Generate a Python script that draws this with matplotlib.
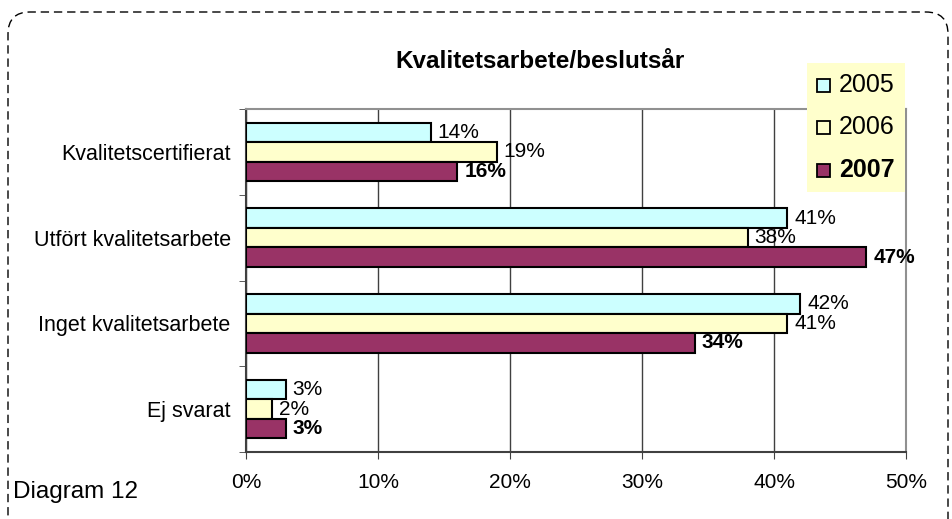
import numpy as np
import matplotlib.pyplot as plt
from matplotlib.patches import FancyBboxPatch, Rectangle
from matplotlib.transforms import IdentityTransform

plt.rcParams['font.family'] = ['Liberation Sans', 'DejaVu Sans']

kategorier = ['Kvalitetscertifierat', 'Utfört kvalitetsarbete', 'Inget kvalitetsarbete', 'Ej svarat']
ar = ['2005', '2006', '2007']
v2005 = [14, 41, 42, 3]
v2006 = [19, 38, 41, 2]
v2007 = [16, 47, 34, 3]
xticks = [0, 10, 20, 30, 40, 50]

farger = ['#CCFFFF', '#FFFFCC', '#993366']

W, H = 952, 519
fig = plt.figure(figsize=(W/100, H/100), dpi=100)
ax = fig.add_axes([246/W, 1-452/H, 660/W, 343/H])

y = np.arange(len(kategorier))
h = 0.227
serier = [v2005, v2006, v2007]
for i, vals in enumerate(serier):
    pos = y + (i-1)*h
    ax.barh(pos, vals, height=h, color=farger[i], edgecolor='black', linewidth=1.5, zorder=3)
    for p, v in zip(pos, vals):
        ax.annotate('%d%%' % v, (v, p), xytext=(5, 0), textcoords='offset points',
                    va='center', ha='left', fontsize=15,
                    fontweight='bold' if i == 2 else 'normal', zorder=4)

ax.set_xlim(0, 50)
ax.set_ylim(len(kategorier)-0.5, -0.5)
ax.set_xticks(xticks)
ax.set_xticklabels(['%d%%' % t for t in xticks], fontsize=15)
ax.set_yticks(y)
ax.set_yticklabels(kategorier, fontsize=15.5)
ax.set_yticks(np.arange(len(kategorier)+1)-0.5, minor=True)
ax.tick_params(axis='y', which='major', length=0, pad=11)
ax.tick_params(axis='y', which='minor', length=5, color='#404040')
ax.tick_params(axis='x', length=5, color='#404040', pad=10)
ax.grid(axis='x', color='#404040', linewidth=1, zorder=0)
for s in ['top', 'right']:
    ax.spines[s].set_color('#909090')
    ax.spines[s].set_linewidth(1.5)
for s in ['left', 'bottom']:
    ax.spines[s].set_color('#404040')
    ax.spines[s].set_linewidth(1.5)

fig.text(540/W, 1-62/H, 'Kvalitetsarbete/beslutsår', ha='center', va='center',
         fontsize=17.5, fontweight='bold')

# forklaring
fig.patches.append(Rectangle((807, H-192), 98, 129, transform=IdentityTransform(),
                             facecolor='#FFFFCC', edgecolor='none', zorder=5))
for i, (namn, c) in enumerate(zip(ar, farger)):
    yc = H - (85 + i*42.5)
    fig.patches.append(Rectangle((817, yc-6.5), 13, 13, transform=IdentityTransform(),
                                 facecolor=c, edgecolor='black', linewidth=1.3, zorder=6))
    fig.text(839/W, yc/H, namn, ha='left', va='center', fontsize=18,
             fontweight='bold' if i == 2 else 'normal', zorder=7)

fig.text(13/W, 1-492/H, 'Diagram 12', ha='left', va='center', fontsize=17.5)

ram = FancyBboxPatch((8, -30), 940, H-12+30, transform=IdentityTransform(),
                     boxstyle='round,pad=0,rounding_size=22', fill=False,
                     edgecolor='black', linestyle=(0, (6, 3.5)), linewidth=1)
fig.patches.append(ram)

fig.savefig('out.png', dpi=100)
